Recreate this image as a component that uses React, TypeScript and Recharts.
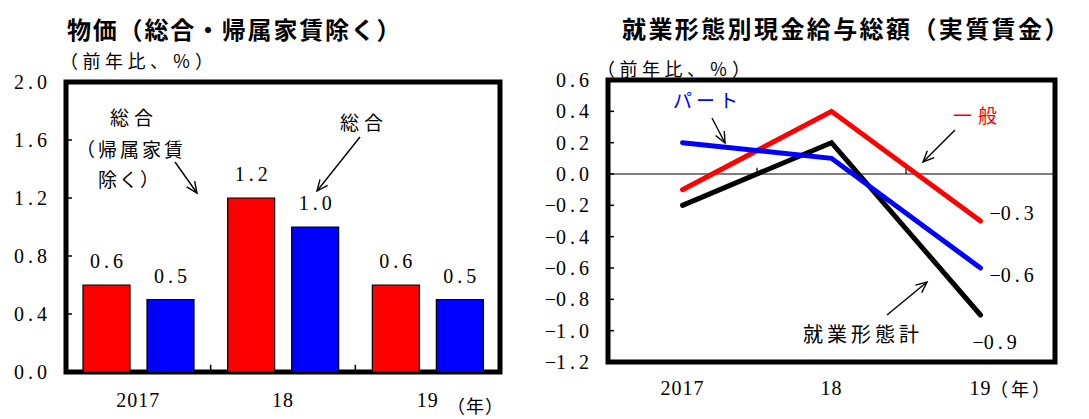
import {
  BarChart,
  Bar,
  LineChart,
  Line,
  XAxis,
  YAxis,
  LabelList,
  ReferenceLine,
  ReferenceArea,
} from "recharts";

// 物価（前年比、%）
const years = ["2017", "18", "19"];
const priceExRent = [0.6, 1.2, 0.6]; // 総合（帰属家賃除く）
const priceAll = [0.5, 1.0, 0.5]; // 総合
const priceTicks = [0, 0.4, 0.8, 1.2, 1.6, 2.0];

// 就業形態別現金給与総額（実質賃金、前年比、%）
const wageGeneral = [-0.1, 0.4, -0.3]; // 一般
const wagePart = [0.2, 0.1, -0.6]; // パート
const wageTotal = [-0.2, 0.2, -0.9]; // 就業形態計
const wageTicks = [-1.2, -1.0, -0.8, -0.6, -0.4, -0.2, 0, 0.2, 0.4, 0.6];

const SERIF = '"Liberation Serif", "DejaVu Serif", serif';
const JP = '"Noto Sans CJK JP", "Noto Sans", sans-serif';
const TICK_GAP = 19;

const priceData = years.map((year, i) => ({
  year,
  exRent: priceExRent[i],
  all: priceAll[i],
}));

const wageData = years.map((year, i) => ({
  x: i,
  year,
  general: wageGeneral[i],
  part: wagePart[i],
  total: wageTotal[i],
}));

// numbers are set with a wide point, like "0. 6"
function Num({ x, y, v, anchor }: { x: number; y: number; v: number; anchor: "start" | "middle" | "end" }) {
  const [a, b] = Math.abs(v).toFixed(1).split(".");
  return (
    <text x={x} y={y} dy="0.35em" textAnchor={anchor} fontFamily={SERIF} fontSize={20} fill="#000">
      {v < 0 ? "\u2212" : ""}
      {a}
      <tspan dx={4}>.</tspan>
      <tspan dx={4}>{b}</tspan>
    </text>
  );
}

// label on the left, short tick pointing into the plot
const YTick = (props: any) => {
  const ax = Number(props.x) + TICK_GAP;
  return (
    <g>
      <line x1={ax} x2={ax + 6} y1={props.y} y2={props.y} stroke="#000" strokeWidth={1.5} />
      <Num x={props.x} y={props.y} v={props.payload.value} anchor="end" />
    </g>
  );
};

const YearTick = (props: any) => {
  const v = props.payload.value;
  const label = typeof v === "number" ? years[v] : v;
  return (
    <text x={props.x} y={props.y} dy="0.35em" textAnchor="middle" fontFamily={SERIF} fontSize={20} letterSpacing={1} fill="#000">
      {label}
    </text>
  );
};

const barLabel = (props: any) => (
  <Num x={Number(props.x) + Number(props.width) / 2} y={Number(props.y) - 24} v={props.value} anchor="middle" />
);

const endLabel = (dx: number, dy: number) => (props: any) =>
  props.index === years.length - 1 ? (
    <Num x={Number(props.x) + dx} y={Number(props.y) + dy} v={props.value} anchor="start" />
  ) : (
    <g />
  );

function Arrow({ x1, y1, x2, y2 }: { x1: number; y1: number; x2: number; y2: number }) {
  const a = Math.atan2(y2 - y1, x2 - x1);
  const L = 12;
  const w = 0.42;
  const p1 = `${x2 - L * Math.cos(a - w)},${y2 - L * Math.sin(a - w)}`;
  const p2 = `${x2 - L * Math.cos(a + w)},${y2 - L * Math.sin(a + w)}`;
  return (
    <g stroke="#000" strokeWidth={1.4} fill="none">
      <line x1={x1} y1={y1} x2={x2} y2={y2} />
      <polyline points={`${p1} ${x2},${y2} ${p2}`} />
    </g>
  );
}

function Note({ x, y, children, color = "#000", size = 19, spacing = 2, bold = false }: any) {
  return (
    <text
      x={x}
      y={y}
      dominantBaseline="central"
      fontFamily={JP}
      fontSize={size}
      fontWeight={bold ? 700 : 400}
      letterSpacing={spacing}
      fill={color}
    >
      {children}
    </text>
  );
}

export default function App() {
  return (
    <div style={{ position: "absolute", left: 0, top: 0, width: 1089, height: 419, background: "#fff", overflow: "hidden" }}>
      <div style={{ position: "absolute", left: 0, top: 0 }}>
        <BarChart
          width={540}
          height={419}
          data={priceData}
          margin={{ top: 82, right: 40, bottom: 0, left: 0 }}
          barCategoryGap={17}
          barGap={17}
        >
          <XAxis dataKey="year" height={47} axisLine={false} tickLine={false} tickSize={0} tickMargin={28} tick={YearTick} />
          <YAxis
            width={66}
            domain={[0, 2]}
            ticks={priceTicks}
            interval={0}
            axisLine={false}
            tickLine={false}
            tickSize={0}
            tickMargin={TICK_GAP}
            tick={YTick}
          />
          <Bar dataKey="exRent" fill="#ff0000" stroke="#000" strokeWidth={1.2} isAnimationActive={false}>
            <LabelList dataKey="exRent" content={barLabel} />
          </Bar>
          <Bar dataKey="all" fill="#0000ff" stroke="#000" strokeWidth={1.2} isAnimationActive={false}>
            <LabelList dataKey="all" content={barLabel} />
          </Bar>
          <ReferenceLine segment={[{ x: "18", y: 0 }, { x: "18", y: 0.05 }]} position="start" stroke="#000" strokeWidth={1.5} />
          <ReferenceLine segment={[{ x: "19", y: 0 }, { x: "19", y: 0.05 }]} position="start" stroke="#000" strokeWidth={1.5} />
          <ReferenceArea x1="2017" x2="19" y1={0} y2={2} fill="none" fillOpacity={0} stroke="#000" strokeWidth={5} />
        </BarChart>
      </div>

      <div style={{ position: "absolute", left: 540, top: 0 }}>
        <LineChart width={549} height={419} data={wageData} margin={{ top: 80, right: 34, bottom: 0, left: 0 }}>
          <XAxis
            dataKey="x"
            type="number"
            domain={[-0.5, 2.5]}
            ticks={[0, 1, 2]}
            height={57}
            axisLine={false}
            tickLine={false}
            tickSize={0}
            tickMargin={26}
            tick={YearTick}
          />
          <YAxis
            width={68}
            domain={[-1.2, 0.6]}
            ticks={wageTicks}
            interval={0}
            axisLine={false}
            tickLine={false}
            tickSize={0}
            tickMargin={TICK_GAP}
            tick={YTick}
          />
          <ReferenceLine y={0} stroke="#000" strokeWidth={1.2} />
          <ReferenceLine segment={[{ x: 0.5, y: 0 }, { x: 0.5, y: 0.04 }]} stroke="#000" strokeWidth={1.2} />
          <ReferenceLine segment={[{ x: 1.5, y: 0 }, { x: 1.5, y: 0.04 }]} stroke="#000" strokeWidth={1.2} />
          <Line dataKey="general" stroke="#ff0000" strokeWidth={5} dot={false} strokeLinecap="round" isAnimationActive={false}>
            <LabelList dataKey="general" content={endLabel(9, -8)} />
          </Line>
          <Line dataKey="total" stroke="#000" strokeWidth={5} dot={false} strokeLinecap="round" isAnimationActive={false}>
            <LabelList dataKey="total" content={endLabel(-8, 27)} />
          </Line>
          <Line dataKey="part" stroke="#0000ff" strokeWidth={5} dot={false} strokeLinecap="round" isAnimationActive={false}>
            <LabelList dataKey="part" content={endLabel(9, 7)} />
          </Line>
          <ReferenceArea x1={-0.5} x2={2.5} y1={-1.2} y2={0.6} fill="none" fillOpacity={0} stroke="#000" strokeWidth={5} />
        </LineChart>
      </div>

      <svg width={1089} height={419} style={{ position: "absolute", left: 0, top: 0, pointerEvents: "none" }}>
        {/* titles and units */}
        <Note x={67} y={28} size={24} spacing={1.8} bold>物価（総合・帰属家賃除く）</Note>
        <Note x={60} y={60} size={18} spacing={4.5}>（前年比、％）</Note>
        <Note x={447} y={405} size={18} spacing={1}>（年）</Note>
        <Note x={622} y={27} size={24} spacing={2.4} bold>就業形態別現金給与総額（実質賃金）</Note>
        <Note x={597} y={68} size={18} spacing={4.5}>（前年比、％）</Note>
        <Note x={990} y={388} size={18} spacing={3}>（年）</Note>

        {/* left panel notes */}
        <Note x={110} y={116} spacing={5}>総合</Note>
        <Note x={76} y={148} spacing={3}>（帰属家賃</Note>
        <Note x={98} y={178} spacing={2}>除く）</Note>
        <Arrow x1={175} y1={162} x2={197} y2={193} />
        <Note x={340} y={121} spacing={5}>総合</Note>
        <Arrow x1={360} y1={137} x2={317} y2={191} />

        {/* right panel notes */}
        <Note x={673} y={99} spacing={4} color="#0000ff">パート</Note>
        <Arrow x1={712} y1={118} x2={725} y2={143} />
        <Note x={953} y={114} spacing={6} color="#ff0000">一般</Note>
        <Arrow x1={955} y1={130} x2={923} y2={162} />
        <Note x={803} y={333} size={20} spacing={4}>就業形態計</Note>
        <Arrow x1={887} y1={315} x2={927} y2={282} />
      </svg>
    </div>
  );
}
